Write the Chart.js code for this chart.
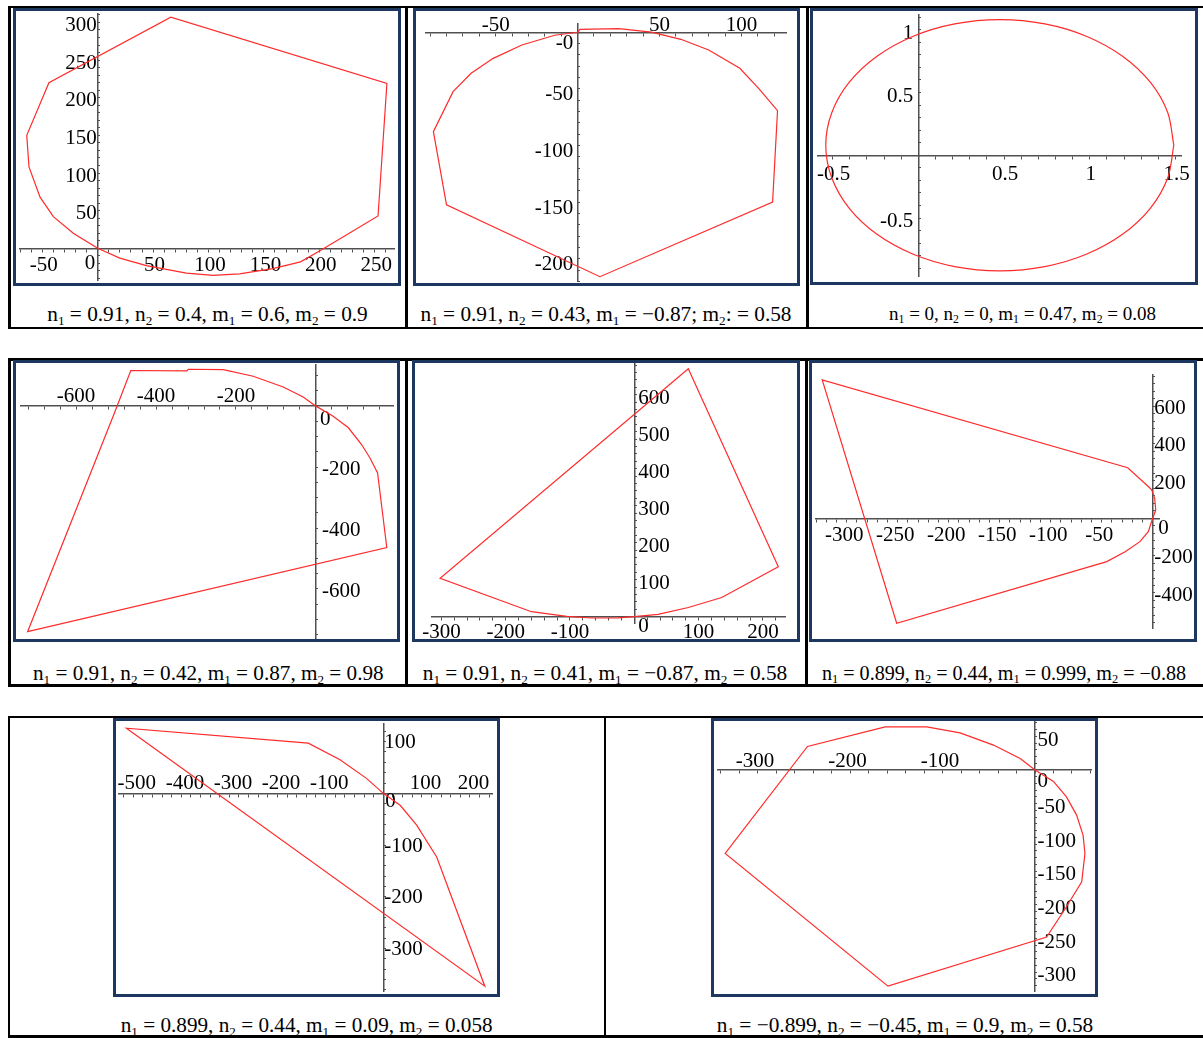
<!DOCTYPE html>
<html>
<head>
<meta charset="utf-8">
<script src="https://cdn.jsdelivr.net/npm/chart.js@4.4.1/dist/chart.umd.min.js"></script>
<style>
  html, body { margin: 0; padding: 0; background: #fff; }
  body { width: 1203px; height: 1038px; position: relative; overflow: hidden;
         font-family: "Liberation Serif", "Times New Roman", serif; color: #000; }
  .ln { position: absolute; background: #000; }
  .box { position: absolute; border: 3px solid #1d3761; box-sizing: border-box; background: #fff; }
  .box canvas { display: block; }
  .cap { position: absolute; width: 500px; text-align: center; line-height: 24px; white-space: nowrap; }
  .cap sub { font-size: 0.62em; vertical-align: -0.28em; line-height: 0; }
</style>
</head>
<body>
<script>
// ---------------- DATA ----------------
// Panel 1: n1 = 0.91, n2 = 0.4, m1 = 0.6, m2 = 0.9
const P1_X = [0, 20, 44, 80, 104, 128, 158, 183, 201, 253, 261, 66, -44, -64, -62, -52, -40, -22, 0];
const P1_Y = [0, -13, -23, -33, -36, -34, -27, -18, -3, 43, 219, 307, 220, 150, 108, 68, 42, 20, 0];
const P1_XTICKS = [-50, 50, 100, 150, 200, 250];
const P1_XLABELS = ['-50', '50', '100', '150', '200', '250'];
const P1_YTICKS = [0, 50, 100, 150, 200, 250, 300];
const P1_YLABELS = ['0', '50', '100', '150', '200', '250', '300'];

// Panel 2: n1 = 0.91, n2 = 0.43, m1 = -0.87, m2 = 0.58
const P2_X = [0, 1.4, 25, 45, 63, 80, 99, 111, 122, 119, 13.6, -80, -88, -76, -65, -51.5, -34, -14, 0];
const P2_Y = [0, 2.6, 3.2, 0.2, -6.2, -15.6, -31.8, -50.3, -69.2, -149.8, -215.7, -152.2, -87.7, -52.4, -36.2, -23, -11.2, -2.6, 0];
const P2_XTICKS = [-50, 50, 100];
const P2_XLABELS = ['-50', '50', '100'];
const P2_YTICKS = [0, -50, -100, -150, -200];
const P2_YLABELS = ['-0', '-50', '-100', '-150', '-200'];

// Panel 3: n1 = 0, n2 = 0, m1 = 0.47, m2 = 0.08
const P3_X = [1.49, 1.455, 1.354, 1.193, 0.983, 0.738, 0.475, 0.212, -0.033, -0.243, -0.404, -0.505, -0.54,
              -0.505, -0.404, -0.243, -0.033, 0.212, 0.475, 0.738, 0.983, 1.193, 1.354, 1.455, 1.49];
const P3_Y = [0.08, 0.339, 0.58, 0.787, 0.946, 1.046, 1.08, 1.046, 0.946, 0.787, 0.58, 0.339, 0.08,
              -0.179, -0.42, -0.627, -0.786, -0.886, -0.92, -0.886, -0.786, -0.627, -0.42, -0.179, 0.08];
const P3_XTICKS = [-0.5, 0.5, 1, 1.5];
const P3_XLABELS = ['-0.5', '0.5', '1', '1.5'];
const P3_YTICKS = [1, 0.5, -0.5];
const P3_YLABELS = ['1', '0.5', '-0.5'];

// Panel 4: n1 = 0.91, n2 = 0.42, m1 = 0.87, m2 = 0.98
const P4_X = [0, 43, 81, 114, 135, 154, 177, -721, -503, -463, -323, -319, -232, -157, -82, -32, 0];
const P4_Y = [0, -33, -71, -126, -170, -219, -464, -740, -19, 117, 116, 121, 120, 98, 63, 30, 0];
const P4_XTICKS = [-600, -400, -200];
const P4_XLABELS = ['-600', '-400', '-200'];
const P4_YTICKS = [0, -200, -400, -600];
const P4_YLABELS = ['0', '-200', '-400', '-600'];

// Panel 5: n1 = 0.91, n2 = 0.41, m1 = -0.87, m2 = 0.58
const P5_X = [0, 37, 84, 136, 224, 84, -302, -160, -105, -66, -25, 0];
const P5_Y = [0, 6.5, 25, 52, 135, 670, 104, 13.5, 1, -3.5, -3, 0];
const P5_XTICKS = [-300, -200, -100, 100, 200];
const P5_XLABELS = ['-300', '-200', '-100', '100', '200'];
const P5_YTICKS = [0, 100, 200, 300, 400, 500, 600];
const P5_YLABELS = ['0', '100', '200', '300', '400', '500', '600'];

// Panel 6: n1 = 0.899, n2 = 0.44, m1 = 0.999, m2 = -0.88
const P6_X = [0, 3, 2, -1, -4, -24.5, -324, -251, -45, -27, -12.5, -4.3, 0];
const P6_Y = [0, 44, 107, 152, 169, 271, 741, -562, -232, -179, -125, -72, 0];
const P6_XTICKS = [-300, -250, -200, -150, -100, -50];
const P6_XLABELS = ['-300', '-250', '-200', '-150', '-100', '-50'];
const P6_YTICKS = [600, 400, 200, 0, -200, -400];
const P6_YLABELS = ['600', '400', '200', '0', '-200', '-400'];

// Panel 7: n1 = 0.899, n2 = 0.44, m1 = 0.09, m2 = 0.058
const P7_X = [0, 35, 69, 111, 211, -534, -156, -90, -35, 0];
const P7_Y = [0, -23, -61, -123, -373, 126, 97, 65, 29, 0];
const P7_XTICKS = [-500, -400, -300, -200, -100, 100, 200];
const P7_XLABELS = ['-500', '-400', '-300', '-200', '-100', '100', '200'];
const P7_YTICKS = [100, 0, -100, -200, -300];
const P7_YLABELS = ['100', '0', '-100', '-200', '-300'];

// Panel 8: n1 = -0.899, n2 = -0.45, m1 = 0.9, m2 = 0.58
const P8_X = [0, 20, 34, 45, 52, 54, 50.5, 34, 12.6, -159, -335, -246, -162, -117, -81, -45, -16, 0];
const P8_Y = [0, -17, -40, -67, -97, -124, -166, -203, -248, -321, -124, 35, 64, 64, 55, 37, 17, 0];
const P8_XTICKS = [-300, -200, -100];
const P8_XLABELS = ['-300', '-200', '-100'];
const P8_YTICKS = [50, 0, -50, -100, -150, -200, -250, -300];
const P8_YLABELS = ['50', '0', '-50', '-100', '-150', '-200', '-250', '-300'];

const CAPTIONS = [
  'n<sub>1</sub> = 0.91, n<sub>2</sub> = 0.4, m<sub>1</sub> = 0.6, m<sub>2</sub> = 0.9',
  'n<sub>1</sub> = 0.91, n<sub>2</sub> = 0.43, m<sub>1</sub> = \u22120.87; m<sub>2</sub>: = 0.58',
  'n<sub>1</sub> = 0, n<sub>2</sub> = 0, m<sub>1</sub> = 0.47, m<sub>2</sub> = 0.08',
  'n<sub>1</sub> = 0.91, n<sub>2</sub> = 0.42, m<sub>1</sub> = 0.87, m<sub>2</sub> = 0.98',
  'n<sub>1</sub> = 0.91, n<sub>2</sub> = 0.41, m<sub>1</sub> = \u22120.87, m<sub>2</sub> = 0.58',
  'n<sub>1</sub> = 0.899, n<sub>2</sub> = 0.44, m<sub>1</sub> = 0.999, m<sub>2</sub> = \u22120.88',
  'n<sub>1</sub> = 0.899, n<sub>2</sub> = 0.44, m<sub>1</sub> = 0.09, m<sub>2</sub> = 0.058',
  'n<sub>1</sub> = \u22120.899, n<sub>2</sub> = \u22120.45, m<sub>1</sub> = 0.9, m<sub>2</sub> = 0.58'
];

// ---------------- LAYOUT / STYLE ----------------
const RED = '#ff2b2b';
const AXIS = '#505050';
const FONT = '"Liberation Serif", "Times New Roman", serif';
const FS = 21;
const TL = 3;

const LINES = [
  [8, 6, 1195, 2], [8, 327, 1195, 2], [8, 6, 3, 323], [405, 6, 3, 323], [806, 6, 3, 323],
  [8, 358, 1195, 3], [8, 684, 1195, 3], [8, 358, 3, 329], [405, 358, 3, 329], [805, 358, 3, 329],
  [8, 716, 1195, 2], [8, 1035, 1195, 3], [8, 716, 2, 322], [604, 716, 2, 322]
];

// caption centre x, centre y, font size
const CAPPOS = [[207.5, 314, 21.3], [606, 314, 21.3], [1022.5, 314, 19], [208.3, 673.3, 21.2],
                [605, 673.3, 21.3], [1004, 673.3, 20.1], [306.7, 1025, 21.2], [905, 1025, 21.3]];

const PANELS = [
  { xs: P1_X, ys: P1_Y, xt: P1_XTICKS, xl: P1_XLABELS, yt: P1_YTICKS, yl: P1_YLABELS,
    box: [13, 8, 401, 286], ax: [20, 394], ay: [14, 280],
    xr: [-70.1, 267.4], yr: [-42.1, 311.2], xStep: 10, yStep: 10,
    xDy: 16.7, xOff: 1.5, yAlign: 'right', yDx: -1, yOff: 3, zero: '0', zeroDy: 11.7, zeroDx: -1.5 },
  { xs: P2_X, ys: P2_Y, xt: P2_XTICKS, xl: P2_XLABELS, yt: P2_YTICKS, yl: P2_YLABELS,
    box: [413, 8, 800, 286], ax: [425.7, 786.7], ay: [24, 281.7],
    xr: [-92.7, 127.6], yr: [-220.1, 7.3], xStep: 10, yStep: 10,
    xDy: -6.3, xOff: 0, yAlign: 'right', yDx: -4.4, yOff: 6, zero: '-0', zeroDy: 5, zeroDx: 0 },
  { xs: P3_X, ys: P3_Y, xt: P3_XTICKS, xl: P3_XLABELS, yt: P3_YTICKS, yl: P3_YLABELS,
    box: [810, 8, 1198, 285], ax: [817.7, 1181], ay: [15, 276],
    xr: [-0.587, 1.532], yr: [-0.961, 1.117], xStep: 0.1, yStep: 0.1,
    xDy: 18.7, xOff: 1, yAlign: 'right', yDx: -5, yOff: 3.6, zero: null, zeroDy: 0, zeroDx: 0, tension: 0.3 },
  { xs: P4_X, ys: P4_Y, xt: P4_XTICKS, xl: P4_XLABELS, yt: P4_YTICKS, yl: P4_YLABELS,
    box: [13, 360, 400, 642], ax: [20.7, 393.3], ay: [365, 638.3],
    xr: [-738.3, 193.3], yr: [-761.8, 135], xStep: 40, yStep: 50,
    xDy: -10, xOff: 0, yAlign: 'left', yDx: 6, yOff: 2.5, zero: '0', zeroDy: 10.8, zeroDx: -2 },
  { xs: P5_X, ys: P5_Y, xt: P5_XTICKS, xl: P5_XLABELS, yt: P5_YTICKS, yl: P5_YLABELS,
    box: [412, 360, 800, 642], ax: [431.7, 785.7], ay: [363.3, 623.3],
    xr: [-315.1, 235.5], yr: [-17.8, 684.9], xStep: 20, yStep: 20,
    xDy: 15.8, xOff: 0, yAlign: 'left', yDx: 4, yOff: 3.6, zero: '0', zeroDy: 6.4, zeroDx: 0 },
  { xs: P6_X, ys: P6_Y, xt: P6_XTICKS, xl: P6_XLABELS, yt: P6_YTICKS, yl: P6_YLABELS,
    box: [809, 360, 1197, 642], ax: [815.7, 1159], ay: [375, 628.3],
    xr: [-330.4, 6.2], yr: [-589.2, 767.5], xStep: 10, yStep: 40,
    xDy: 16.7, xOff: -2.5, yAlign: 'left', yDx: 1.5, yOff: 2.3, zero: '0', zeroDy: 7.7, zeroDx: 4 },
  { xs: P7_X, ys: P7_Y, xt: P7_XTICKS, xl: P7_XLABELS, yt: P7_YTICKS, yl: P7_YLABELS,
    box: [113, 718, 500, 997], ax: [118.3, 492.7], ay: [723.3, 991.7],
    xr: [-550.9, 227.4], yr: [-383.6, 135.5], xStep: 20, yStep: 20,
    xDy: -10, xOff: -6, yAlign: 'left', yDx: 1, yOff: 1, zero: '0', zeroDy: 6.7, zeroDx: 1 },
  { xs: P8_X, ys: P8_Y, xt: P8_XTICKS, xl: P8_XLABELS, yt: P8_YTICKS, yl: P8_YLABELS,
    box: [711, 718, 1098, 997], ax: [717.3, 1091.7], ay: [721.7, 991.7],
    xr: [-343.5, 61.3], yr: [-329.2, 71.7], xStep: 20, yStep: 10,
    xDy: -8.3, xOff: -2.5, yAlign: 'left', yDx: 2.5, yOff: 3.7, zero: '0', zeroDy: 8, zeroDx: 0 }
];

// ---------------- BUILD ----------------
LINES.forEach(([l, t, w, h]) => {
  const d = document.createElement('div');
  d.className = 'ln';
  Object.assign(d.style, { left: l + 'px', top: t + 'px', width: w + 'px', height: h + 'px' });
  document.body.appendChild(d);
});

CAPTIONS.forEach((html, i) => {
  const d = document.createElement('div');
  d.className = 'cap';
  d.innerHTML = html;
  d.style.left = (CAPPOS[i][0] - 250) + 'px';
  d.style.top = (CAPPOS[i][1] - 12) + 'px';
  d.style.fontSize = CAPPOS[i][2] + 'px';
  document.body.appendChild(d);
});

function zeroPad(s) { s.paddingLeft = 0; s.paddingRight = 0; s.paddingTop = 0; s.paddingBottom = 0; }
function findTick(ticks, v) { return ticks.findIndex(t => Math.abs(t - v) < 1e-6); }

// Places the axes' own tick labels Maple-style (labels beside axes that cross at the origin).
const labelPlacer = {
  id: 'labelPlacer',
  beforeDraw(chart, args, o) {
    const sx = chart.scales.x, sy = chart.scales.y;
    const axPx = sx.getPixelForValue(0), ayPx = sy.getPixelForValue(0);
    const xi = sx.getLabelItems(chart.chartArea);
    if (!xi._placed) {
      xi._placed = true;
      xi.forEach(it => {
        it.textOffset = 0;
        it.options.textBaseline = 'middle';
        it.options.translation[1] = ayPx + o.xDy;
      });
    }
    const yi = sy.getLabelItems(chart.chartArea);
    if (!yi._placed) {
      yi._placed = true;
      yi.forEach(it => {
        it.textOffset = 0;
        it.options.textBaseline = 'middle';
        it.options.textAlign = o.yAlign;
        it.options.translation[0] = axPx + o.yDx;
        if (o.zero !== null && it.label === o.zero) {
          it.options.translation[1] += o.zeroDy;
          it.options.translation[0] += o.zeroDx;
        }
      });
    }
  }
};

function buildPanel(P) {
  const host = document.createElement('div');
  host.className = 'box';
  const W = P.box[2] - P.box[0], H = P.box[3] - P.box[1];
  Object.assign(host.style, { left: P.box[0] + 'px', top: P.box[1] + 'px', width: W + 'px', height: H + 'px' });
  const cv = document.createElement('canvas');
  const cw = W - 6, ch = H - 6;
  cv.width = cw; cv.height = ch;
  host.appendChild(cv);
  document.body.appendChild(host);
  const ox = P.box[0] + 3, oy = P.box[1] + 3;
  const pad = { left: P.ax[0] - ox, right: ox + cw - P.ax[1], top: P.ay[0] - oy, bottom: oy + ch - P.ay[1] };

  const pts = P.xs.map((x, i) => ({ x: x, y: P.ys[i] }));

  new Chart(cv, {
    type: 'scatter',
    data: { datasets: [{ data: pts, showLine: true, borderColor: RED, borderWidth: 1.2,
                         pointRadius: 0, pointHoverRadius: 0, tension: P.tension || 0, clip: false, fill: false }] },
    plugins: [labelPlacer],
    options: {
      responsive: false, animation: false, events: [],
      layout: { padding: pad },
      plugins: {
        legend: { display: false }, tooltip: { enabled: false },
        labelPlacer: { xDy: P.xDy, yAlign: P.yAlign, yDx: P.yDx, zero: P.zero, zeroDy: P.zeroDy, zeroDx: P.zeroDx }
      },
      scales: {
        x: {
          type: 'linear', min: P.xr[0], max: P.xr[1], position: { y: 0 },
          border: { display: true, color: AXIS, width: 1.5 },
          grid: { display: true, drawOnChartArea: false, drawTicks: true, tickLength: TL, color: AXIS, tickWidth: 1 },
          ticks: { stepSize: P.xStep, includeBounds: false, autoSkip: false, maxRotation: 0, minRotation: 0,
                   maxTicksLimit: 1000, padding: 0, labelOffset: P.xOff, color: '#000',
                   font: { family: FONT, size: FS },
                   callback: (v) => { const i = findTick(P.xt, v); return i < 0 ? '' : P.xl[i]; } },
          afterFit: zeroPad
        },
        y: {
          type: 'linear', min: P.yr[0], max: P.yr[1], position: { x: 0 },
          border: { display: true, color: AXIS, width: 1.5 },
          grid: { display: true, drawOnChartArea: false, drawTicks: true, tickLength: -TL, color: AXIS, tickWidth: 1 },
          ticks: { stepSize: P.yStep, includeBounds: false, autoSkip: false,
                   maxTicksLimit: 1000, padding: 0, labelOffset: P.yOff, color: '#000',
                   font: { family: FONT, size: FS },
                   callback: (v) => { const i = findTick(P.yt, v); return i < 0 ? '' : P.yl[i]; } },
          afterFit: zeroPad
        }
      }
    }
  });
}

PANELS.forEach(buildPanel);
</script>
</body>
</html>
